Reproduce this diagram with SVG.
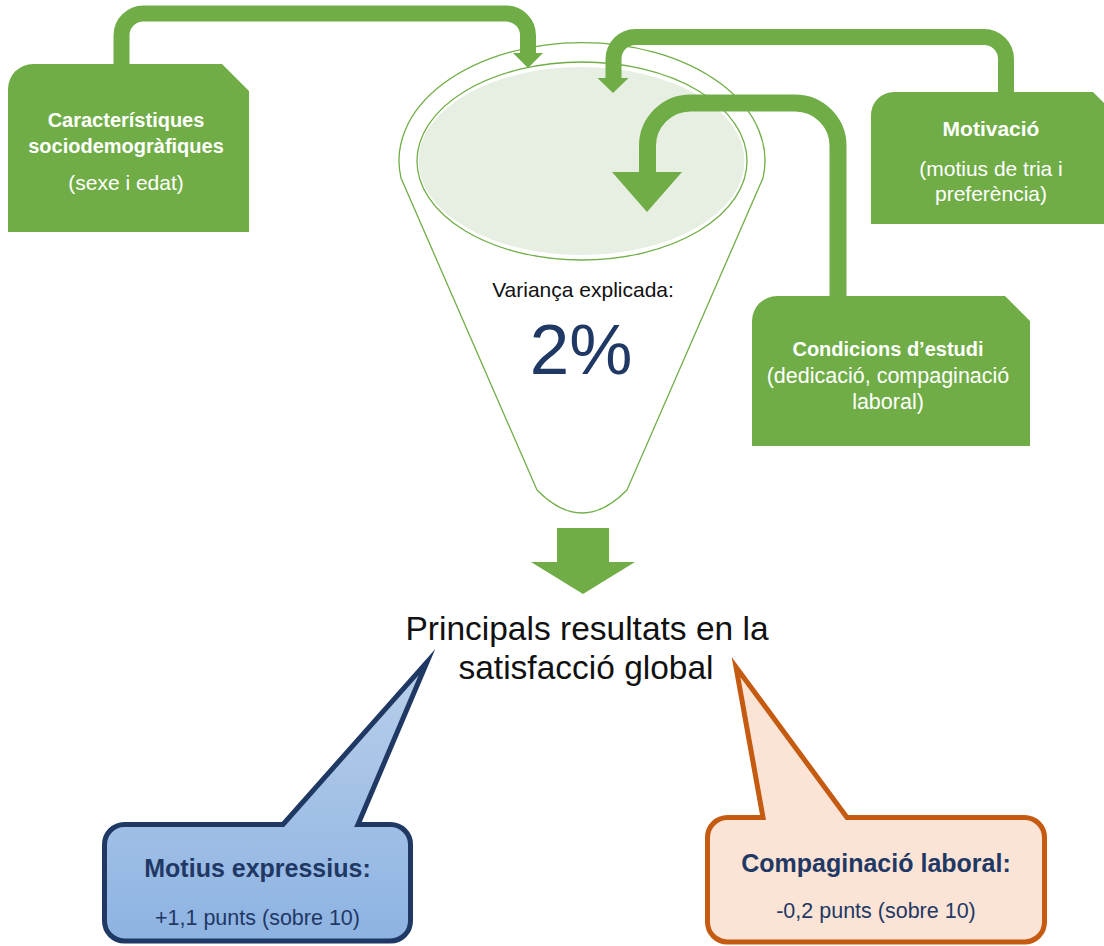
<svg xmlns="http://www.w3.org/2000/svg" width="1104" height="946" viewBox="0 0 1104 946">
  <defs>
    <linearGradient id="blueFill" x1="0" y1="0" x2="0" y2="1">
      <stop offset="0" stop-color="#B9CFEA"/>
      <stop offset="1" stop-color="#8DB3E2"/>
    </linearGradient>
    <style>
      .box { fill: #70AD47; }
      .conn { fill: none; stroke: #70AD47; }
      .head { fill: #70AD47; }
      .funnel { fill: none; stroke: #70AD47; stroke-width: 1.3; }
      .wt { font-family: "Liberation Sans", Arial, sans-serif; fill: #FFFFFF; text-anchor: middle; }
      .b { font-weight: bold; }
      .navy { font-family: "Liberation Sans", Arial, sans-serif; fill: #1F3864; text-anchor: middle; }
      .blk { font-family: "Liberation Sans", Arial, sans-serif; fill: #111111; text-anchor: middle; }
    </style>
  </defs>
  <rect width="1104" height="946" fill="#FFFFFF"/>

  <g id="funnel">
    <path class="funnel" d="M401,178 A183,118 0 1 1 763,178 L627,490 Q582,536 537,490 Z" fill="#FFFFFF"/>
    <ellipse cx="582" cy="161" rx="165" ry="99" fill="none" stroke="#70AD47" stroke-width="1.3"/>
    <ellipse cx="581.5" cy="161" rx="163" ry="94" fill="#E6EFE2"/>
    <text class="blk" x="583" y="297" font-size="21">Variança explicada:</text>
    <text class="navy" x="581" y="374" font-size="71">2%</text>
  </g>

  <g id="connectors">
    <path class="conn" stroke-width="16" d="M121.5,66 V35.5 A22,22 0 0 1 143.5,13.5 H506 A22,22 0 0 1 528,35.5 V54"/>
    <polygon class="head" points="513,53 543,53 528,68"/>
    <path class="conn" stroke-width="16" d="M1006,93 V59 A22,22 0 0 0 984,37 H635.5 A22,22 0 0 0 613.5,59 V79"/>
    <polygon class="head" points="597.5,78 628.5,78 613,93"/>
    <path class="conn" stroke-width="17" d="M838,297 V146 A43,43 0 0 0 795,103 H690.5 A43,43 0 0 0 647.5,146 V173"/>
    <polygon class="head" points="612,172 682,172 647,212"/>
    <polygon class="head" points="557,528 609,528 609,562 635,562 583,594 531,562 557,562"/>
  </g>

  <g id="node-socio">
    <path class="box" d="M8,232 V89 A25,25 0 0 1 33,64 H222 L249,91 V232 Z"/>
    <text class="wt b" x="126" y="127" font-size="20">Característiques</text>
    <text class="wt b" x="126" y="153" font-size="20">sociodemogràfiques</text>
    <text class="wt" x="126" y="190" font-size="21">(sexe i edat)</text>
  </g>

  <g id="node-motivacio">
    <path class="box" d="M871,224 V115 A23,23 0 0 1 894,92 H1093 L1120,119 V224 Z"/>
    <text class="wt b" x="991" y="136" font-size="21">Motivació</text>
    <text class="wt" x="991" y="176" font-size="21">(motius de tria i</text>
    <text class="wt" x="991" y="201" font-size="21">preferència)</text>
  </g>

  <g id="node-condicions">
    <path class="box" d="M752,446 V321 A25,25 0 0 1 777,296 H1005 L1030,321 V446 Z"/>
    <text class="wt b" x="888" y="356" font-size="20">Condicions d’estudi</text>
    <text class="wt" x="888" y="383" font-size="21.5">(dedicació, compaginació</text>
    <text class="wt" x="888" y="409" font-size="21.5">laboral)</text>
  </g>

  <g id="node-resultats">
    <text class="blk" x="587" y="640" font-size="33.5">Principals resultats en la</text>
    <text class="blk" x="586" y="679" font-size="33.5">satisfacció global</text>
  </g>

  <g id="node-motius">
    <path d="M124.5,824.5 H283 L427,662 L358,824.5 H390.5 A20,20 0 0 1 410.5,844.5 V921 A20,20 0 0 1 390.5,941 H124.5 A20,20 0 0 1 104.5,921 V844.5 A20,20 0 0 1 124.5,824.5 Z" fill="url(#blueFill)" stroke="#1F3864" stroke-width="5" stroke-linejoin="miter" stroke-miterlimit="10"/>
    <text class="navy b" x="257.5" y="877" font-size="25">Motius expressius:</text>
    <text class="navy" x="257.5" y="925" font-size="21.5">+1,1 punts (sobre 10)</text>
  </g>

  <g id="node-compaginacio">
    <path d="M727.5,817.5 H763 L736,667 L847,817.5 H1024.5 A20,20 0 0 1 1044.5,837.5 V922 A20,20 0 0 1 1024.5,942 H727.5 A20,20 0 0 1 707.5,922 V837.5 A20,20 0 0 1 727.5,817.5 Z" fill="#FBE4D6" stroke="#C55A11" stroke-width="5" stroke-linejoin="miter" stroke-miterlimit="10"/>
    <text class="navy b" x="876" y="872" font-size="25">Compaginació laboral:</text>
    <text class="navy" x="876" y="918" font-size="21.5">-0,2 punts (sobre 10)</text>
  </g>
</svg>
